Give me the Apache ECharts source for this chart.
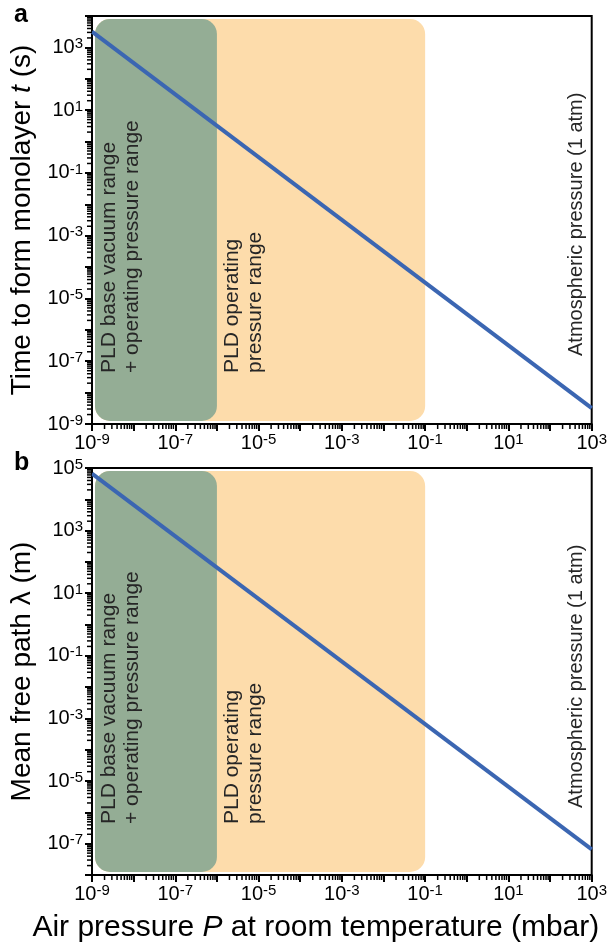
<!DOCTYPE html>
<html><head><meta charset="utf-8">
<script src="https://cdn.jsdelivr.net/npm/echarts@6/dist/echarts.min.js"></script>
<style>html,body{margin:0;padding:0;background:#fff}#c{width:610px;height:944px}</style>
</head><body><div id="c"></div>
<script>
// ---- data ----
const pressure = [1e-9, 1e3];               // mbar (x)
const monolayerTime = [3.2e3, 3.2e-9];      // s   (panel a)
const meanFreePath = [6.6e4, 6.6e-8];       // m   (panel b)
const xRange = [1e-9, 1e3];
const topYRange = [1e-9, 1e4];
const bottomYRange = [1e-8, 1e5];
const regionFrom = [1e-9, 1e-9];
const regionTo = [1e-1, 1e-6];
const regionLabelFrom = [1e-6, 1e-9];
const regionText = [['PLD operating', 'pressure range'], ['PLD base vacuum range', '+ operating pressure range']];
const regionColor = ['#fddcab', '#94ad95'];
const minorMultipliers = [2, 3, 4, 5, 6, 7, 8, 9];
const atmText = 'Atmospheric pressure (1 atm)';

const FONT = '"Liberation Sans", Arial, sans-serif';

function decades(lo, hi) { const a = []; for (let e = Math.round(Math.log10(lo)); e < Math.round(Math.log10(hi)); e++) a.push(e); return a; }
function minorTicks(lo, hi) { const a = []; decades(lo, hi).forEach(e => minorMultipliers.forEach(m => a.push(m * Math.pow(10, e)))); return a; }

function fmt(v) {
  const e = Math.round(Math.log10(v));
  if (Math.abs(e) % 2 !== 1) return '';
  return '{b|10}{s|' + e + '}';
}
const labelRich = {
  b: { fontSize: 20, fontFamily: FONT, color: '#000', lineHeight: 22 },
  s: { fontSize: 15, fontFamily: FONT, color: '#000', verticalAlign: 'top', lineHeight: 22, padding: [0, 0, 6, 0] }
};
const nameStyle = (sz) => ({ fontSize: sz, fontFamily: FONT, color: '#000', rich: { i: { fontSize: sz, fontFamily: FONT, fontStyle: 'italic', color: '#000' } } });

function xAxisCfg(idx, name) {
  return {
    type: 'log', gridIndex: idx, min: xRange[0], max: xRange[1], logBase: 10, interval: 1,
    axisLine: { show: true, lineStyle: { color: '#000', width: 2 } },
    axisTick: { show: true, length: 7, lineStyle: { color: '#000', width: 2 } },
    splitLine: { show: false },
    axisLabel: { formatter: fmt, rich: labelRich, margin: 8, showMinLabel: true, showMaxLabel: true, hideOverlap: false },
    name: name || '', nameLocation: 'middle', nameGap: 38,
    nameTextStyle: Object.assign(nameStyle(30), { padding: [0, 52, 0, 0] })
  };
}
function yAxisCfg(idx, range, name) {
  return {
    type: 'log', gridIndex: idx, min: range[0], max: range[1], logBase: 10, interval: 1,
    axisLine: { show: true, lineStyle: { color: '#000', width: 2 } },
    axisTick: { show: true, length: 7, lineStyle: { color: '#000', width: 2 } },
    splitLine: { show: false },
    axisLabel: { formatter: fmt, rich: labelRich, margin: 9, showMinLabel: true, showMaxLabel: true, hideOverlap: false },
    name: name, nameLocation: 'middle', nameGap: 56,
    nameTextStyle: nameStyle(28)
  };
}

function regionSeries(xi, yi) {
  return {
    type: 'custom', xAxisIndex: xi, yAxisIndex: yi, clip: false, z: 1, silent: true,
    data: regionFrom.map((f, i) => [f, regionTo[i]]),
    renderItem: function (params, api) {
      const i = params.dataIndex;
      const cs = params.coordSys;
      const x0 = api.coord([regionFrom[i], 1])[0] + 3;
      const x1 = api.coord([regionTo[i], 1])[0];
      const y0 = cs.y + 3, y1 = cs.y + cs.height - 3;
      const lx = api.coord([regionLabelFrom[i], 1])[0] + (i === 1 ? 6 : 4);
      return {
        type: 'group', children: [
          { type: 'rect', shape: { x: x0, y: y0, width: x1 - x0, height: y1 - y0, r: 15 }, style: { fill: regionColor[i] } },
          { type: 'text', x: lx, y: y1 - 48, rotation: Math.PI / 2,
            style: { text: regionText[i].join('\n'), font: '21px ' + FONT, fill: '#262626', align: 'left', verticalAlign: 'top', lineHeight: 23 } }
        ]
      };
    }
  };
}
function tickSeries(xi, yi, yr) {
  const xs = minorTicks(xRange[0], xRange[1]).map(v => [v, yr[0], 0]);
  const ys = minorTicks(yr[0], yr[1]).map(v => [xRange[0], v, 1]);
  return {
    type: 'custom', xAxisIndex: xi, yAxisIndex: yi, clip: false, z: 5, silent: true,
    data: xs.concat(ys),
    renderItem: function (params, api) {
      const p = api.coord([api.value(0), api.value(1)]);
      if (api.value(2) === 0) {
        return { type: 'line', shape: { x1: p[0], y1: p[1], x2: p[0], y2: p[1] + 5 }, style: { stroke: '#000', lineWidth: 1.5 } };
      }
      return { type: 'line', shape: { x1: p[0], y1: p[1], x2: p[0] - 5, y2: p[1] }, style: { stroke: '#000', lineWidth: 1.5 } };
    }
  };
}
function lineSeries(xi, yi, vals) {
  return {
    type: 'line', xAxisIndex: xi, yAxisIndex: yi, z: 3, showSymbol: false, silent: true,
    data: pressure.map((p, i) => [p, vals[i]]),
    lineStyle: { color: '#3b66b2', width: 4 }
  };
}

const chart = echarts.init(document.getElementById('c'), null, { renderer: 'canvas' });
chart.setOption({
  animation: false,
  grid: [
    { left: 87, right: 17, top: 16, height: 408, show: true, borderColor: '#000', borderWidth: 2, backgroundColor: 'transparent' },
    { left: 87, right: 17, top: 468, height: 409, show: true, borderColor: '#000', borderWidth: 2, backgroundColor: 'transparent' }
  ],
  xAxis: [xAxisCfg(0), xAxisCfg(1, 'Air pressure {i|P} at room temperature (mbar)')],
  yAxis: [yAxisCfg(0, topYRange, 'Time to form monolayer {i|t} (s)'), yAxisCfg(1, bottomYRange, 'Mean free path λ (m)')],
  series: [
    regionSeries(0, 0), regionSeries(1, 1),
    lineSeries(0, 0, monolayerTime), lineSeries(1, 1, meanFreePath),
    tickSeries(0, 0, topYRange), tickSeries(1, 1, bottomYRange)
  ],
  graphic: [
    { type: 'text', left: 14, top: 3, style: { text: 'a', font: 'bold 25px ' + FONT, fill: '#000' } },
    { type: 'text', left: 14, top: 451, style: { text: 'b', font: 'bold 25px ' + FONT, fill: '#000' } },
    { type: 'text', x: 566, y: 356, rotation: Math.PI / 2, style: { text: atmText, font: '20px ' + FONT, fill: '#262626', align: 'left', verticalAlign: 'top' } },
    { type: 'text', x: 566, y: 808, rotation: Math.PI / 2, style: { text: atmText, font: '20px ' + FONT, fill: '#262626', align: 'left', verticalAlign: 'top' } }
  ]
});
</script>
</body></html>
